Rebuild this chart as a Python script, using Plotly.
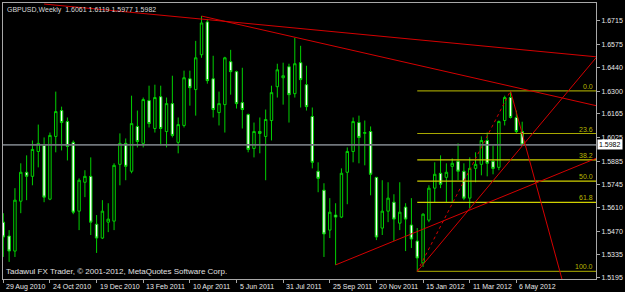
import plotly.graph_objects as go

# ---------------- data ----------------
bars = list(range(90))
opens = [1.5525, 1.5443, 1.5354, 1.5649, 1.5820, 1.5796, 1.5943, 1.5979, 1.5661, 1.6032,
         1.6185, 1.6120, 1.5997, 1.5590, 1.5761, 1.5796, 1.5513, 1.5431, 1.5525, 1.5531,
         1.5867, 1.5991, 1.5826, 1.6091, 1.5991, 1.6244, 1.6079, 1.6267, 1.6061, 1.6226,
         1.5997, 1.6097, 1.6373, 1.6309, 1.6515, 1.6709, 1.6373, 1.6173, 1.6220, 1.6474,
         1.6415, 1.6232, 1.6161, 1.5961, 1.6061, 1.6032, 1.6126, 1.6326, 1.6379, 1.6444,
         1.6285, 1.6468, 1.6338, 1.6150, 1.5826, 1.5714, 1.5478, 1.5567, 1.5555, 1.5820,
         1.5943, 1.6114, 1.6050, 1.6061, 1.5790, 1.5490, 1.5590, 1.5643, 1.5519, 1.5614,
         1.5508, 1.5413, 1.5284, 1.5537, 1.5726, 1.5814, 1.5790, 1.5855, 1.5885, 1.5826,
         1.5667, 1.5843, 1.5867, 1.6008, 1.5885, 1.5849, 1.6126, 1.6262, 1.6144, 1.6061]
highs = [1.5578, 1.5478, 1.5726, 1.5873, 1.5920, 1.6008, 1.6102, 1.6026, 1.6055, 1.6297,
         1.6208, 1.6144, 1.6008, 1.5784, 1.5832, 1.5908, 1.5567, 1.5655, 1.5637, 1.5873,
         1.6050, 1.6020, 1.6273, 1.6185, 1.6262, 1.6332, 1.6338, 1.6332, 1.6262, 1.6391,
         1.6144, 1.6421, 1.6421, 1.6597, 1.6744, 1.6727, 1.6509, 1.6297, 1.6503, 1.6544,
         1.6421, 1.6438, 1.6167, 1.6114, 1.6144, 1.6191, 1.6332, 1.6462, 1.6468, 1.6462,
         1.6615, 1.6568, 1.6450, 1.6203, 1.5879, 1.5755, 1.5667, 1.5637, 1.5843, 1.5967,
         1.6144, 1.6155, 1.6126, 1.6091, 1.5791, 1.5773, 1.5761, 1.5690, 1.5761, 1.5637,
         1.5667, 1.5490, 1.5578, 1.5743, 1.5879, 1.5920, 1.5873, 1.5902, 1.5991, 1.5873,
         1.5908, 1.5938, 1.6032, 1.6055, 1.5979, 1.6126, 1.6273, 1.6301, 1.6185, 1.6119]
lows = [1.5319, 1.5290, 1.5319, 1.5578, 1.5655, 1.5743, 1.5849, 1.5643, 1.5655, 1.5938,
        1.5949, 1.5890, 1.5572, 1.5478, 1.5673, 1.5449, 1.5343, 1.5425, 1.5466, 1.5478,
        1.5743, 1.5773, 1.5814, 1.5967, 1.5967, 1.6085, 1.6055, 1.5979, 1.5967, 1.6026,
        1.5932, 1.6085, 1.6214, 1.6155, 1.6497, 1.6344, 1.6144, 1.6097, 1.6055, 1.6279,
        1.6197, 1.6079, 1.5938, 1.5908, 1.5932, 1.5773, 1.6008, 1.6262, 1.6220, 1.6114,
        1.6262, 1.6203, 1.6185, 1.5843, 1.5702, 1.5319, 1.5431, 1.5272, 1.5549, 1.5631,
        1.5879, 1.5873, 1.5861, 1.5684, 1.5419, 1.5449, 1.5525, 1.5413, 1.5478, 1.5354,
        1.5372, 1.5234, 1.5260, 1.5525, 1.5643, 1.5726, 1.5643, 1.5643, 1.5773, 1.5655,
        1.5608, 1.5761, 1.5802, 1.5796, 1.5808, 1.5832, 1.6097, 1.6138, 1.6050, 1.5977]
closes = [1.5437, 1.5354, 1.5655, 1.5820, 1.5796, 1.5955, 1.5991, 1.5673, 1.6038, 1.6179,
          1.6114, 1.5973, 1.5584, 1.5773, 1.5796, 1.5525, 1.5431, 1.5590, 1.5543, 1.5861,
          1.5991, 1.5855, 1.6108, 1.6002, 1.6250, 1.6108, 1.6262, 1.6079, 1.6226, 1.6038,
          1.6102, 1.6379, 1.6320, 1.6497, 1.6703, 1.6362, 1.6191, 1.6226, 1.6497, 1.6415,
          1.6226, 1.6191, 1.5955, 1.6061, 1.6050, 1.6132, 1.6291, 1.6426, 1.6391, 1.6279,
          1.6462, 1.6368, 1.6208, 1.5879, 1.5784, 1.5455, 1.5584, 1.5555, 1.5814, 1.5943,
          1.6120, 1.6026, 1.6055, 1.5808, 1.5437, 1.5590, 1.5667, 1.5543, 1.5584, 1.5543,
          1.5425, 1.5313, 1.5572, 1.5726, 1.5808, 1.5749, 1.5820, 1.5873, 1.5826, 1.5667,
          1.5843, 1.5867, 1.6008, 1.5873, 1.5843, 1.6120, 1.6262, 1.6144, 1.6061, 1.5982]

date_ticks = [0, 8, 16, 24, 32, 40, 48, 56, 64, 72, 80, 88]
date_labels = ["29 Aug 2010", "24 Oct 2010", "19 Dec 2010", "13 Feb 2011", "10 Apr 2011",
               "5 Jun 2011", "31 Jul 2011", "25 Sep 2011", "20 Nov 2011", "15 Jan 2012",
               "11 Mar 2012", "6 May 2012"]
price_ticks = [1.6715, 1.6575, 1.6440, 1.6300, 1.6165, 1.6025, 1.5885, 1.5745,
               1.5610, 1.5470, 1.5335, 1.5195]
price_labels = ["1.6715", "1.6575", "1.6440", "1.6300", "1.6165", "1.6025", "1.5885",
                "1.5745", "1.5610", "1.5470", "1.5335", "1.5195"]

bid_price = 1.5982
title_text = "GBPUSD,Weekly  1.6061 1.6119 1.5977 1.5982"
footer_text = "Tadawul FX Trader, © 2001-2012, MetaQuotes Software Corp."

# trend lines (bar index, price)
line_a_x = [7.0, 101.66]
line_a_y = [1.6815, 1.6503]
line_b_x = [34, 101.66]
line_b_y = [1.6744, 1.6214]
line_c_x = [57, 101.66]
line_c_y = [1.5272, 1.5902]
line_d_x = [87, 96.8]
line_d_y = [1.6301, 1.5065]
line_e_x = [71, 101.66]
line_e_y = [1.5234, 1.6497]

# fibonacci retracement
fib_start = 71
fib_end = 87
fib_low = 1.5234
fib_high = 1.6301
fib_levels = [0.0, 23.6, 38.2, 50.0, 61.8, 100.0]
fib_names = ["0.0", "23.6", "38.2", "50.0", "61.8", "100.0"]
fib_colors = ["#9A9A00", "#A8A800", "#CFCF00", "#CFCF00", "#CFCF00", "#8E8E00"]

X_MIN, X_MAX = -0.05, 101.66
Y_MIN, Y_MAX = 1.51888, 1.68211

GREEN = "#00D000"
RED = "#D40000"
FONT = "Liberation Sans"

fig = go.Figure()

# bid line
fig.add_trace(go.Scatter(x=[X_MIN, X_MAX], y=[bid_price, bid_price], mode="lines",
                         line=dict(color="#70767B", width=1.6), hoverinfo="skip"))

# fib levels
for lv, col in zip(fib_levels, fib_colors):
    p = fib_high - (fib_high - fib_low) * lv / 100.0
    fig.add_trace(go.Scatter(x=[fib_start, X_MAX], y=[p, p], mode="lines",
                             line=dict(color=col, width=1.2), hoverinfo="skip"))

# candles
fig.add_trace(go.Candlestick(
    x=bars, open=opens, high=highs, low=lows, close=closes,
    increasing=dict(line=dict(color=GREEN, width=1), fillcolor="black"),
    decreasing=dict(line=dict(color=GREEN, width=1), fillcolor="white"),
    whiskerwidth=0, hoverinfo="skip"))

# trend lines
for lx, ly in [(line_a_x, line_a_y), (line_b_x, line_b_y), (line_c_x, line_c_y),
               (line_d_x, line_d_y), (line_e_x, line_e_y)]:
    fig.add_trace(go.Scatter(x=lx, y=ly, mode="lines",
                             line=dict(color=RED, width=1), hoverinfo="skip"))
# fib diagonal
fig.add_trace(go.Scatter(x=[fib_start, fib_end], y=[fib_low, fib_high], mode="lines",
                         line=dict(color=RED, width=1, dash="dot"), hoverinfo="skip"))

annotations = []
for lv, name, col in zip(fib_levels, fib_names, fib_colors):
    p = fib_high - (fib_high - fib_low) * lv / 100.0
    annotations.append(dict(x=1, xref="paper", y=p, yref="y", text=name, showarrow=False,
                            xanchor="right", yanchor="bottom", xshift=-1, yshift=-1,
                            font=dict(family=FONT, size=7, color="#B8B800")))
for t, lab in zip(date_ticks, date_labels):
    annotations.append(dict(x=t, xref="x", y=0, yref="paper", text=lab, showarrow=False,
                            xanchor="left", yanchor="top", xshift=1, yshift=-2,
                            font=dict(family=FONT, size=7, color="#E8E8E8")))
annotations.append(dict(x=0, xref="paper", y=1, yref="paper", text=title_text,
                        showarrow=False, xanchor="left", yanchor="top", xshift=2, yshift=-1,
                        font=dict(family=FONT, size=7, color="#D8D8D8")))
annotations.append(dict(x=0, xref="paper", y=0, yref="paper", text=footer_text,
                        showarrow=False, xanchor="left", yanchor="bottom", xshift=1, yshift=1,
                        font=dict(family=FONT, size=8, color="#E0E0E0")))
annotations.append(dict(x=1, xref="paper", y=bid_price, yref="y", text=bid_price and "1.5982",
                        showarrow=False, xanchor="left", yanchor="middle", xshift=1,
                        bgcolor="white", borderpad=1,
                        font=dict(family=FONT, size=7, color="black")))

fig.update_layout(
    width=625, height=292,
    margin=dict(l=2, r=28, t=2, b=13),
    paper_bgcolor="black", plot_bgcolor="black",
    showlegend=False, boxgap=0.4,
    annotations=annotations,
    xaxis=dict(range=[X_MIN, X_MAX], showgrid=False, zeroline=False,
               rangeslider=dict(visible=False), showline=True, mirror=True,
               linecolor="#A8A8A8", linewidth=1, ticks="outside", ticklen=3,
               tickcolor="#A8A8A8", tickvals=date_ticks, showticklabels=False),
    yaxis=dict(range=[Y_MIN, Y_MAX], side="right", showgrid=False, zeroline=False,
               showline=True, mirror=True, linecolor="#A8A8A8", linewidth=1,
               ticks="outside", ticklen=3, tickcolor="#A8A8A8",
               tickvals=price_ticks, ticktext=price_labels,
               tickfont=dict(family=FONT, size=7, color="#E8E8E8")),
)

fig.write_html("out.html", config={"displayModeBar": False})
